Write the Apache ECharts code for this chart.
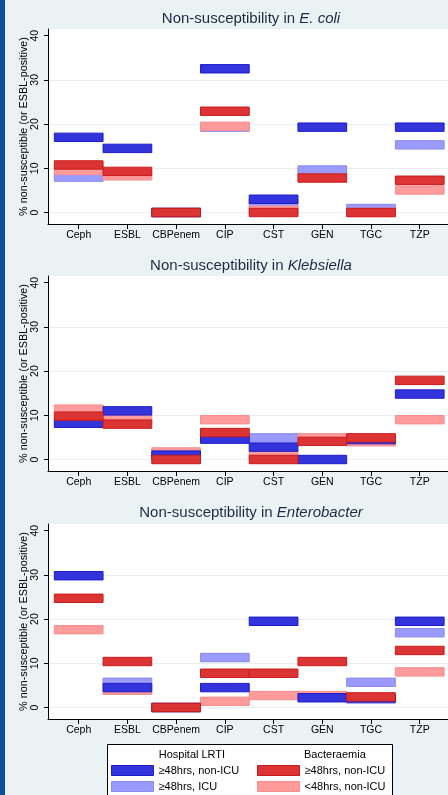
<!DOCTYPE html>
<html>
<head>
<meta charset="utf-8">
<script src="https://cdn.jsdelivr.net/npm/echarts@6/dist/echarts.min.js"></script>
<style>
    html, body { margin: 0; padding: 0; background: #eaf2f3; }
    #chart { width: 448px; height: 795px; }
</style>
</head>
<body>
<div id="chart"></div>
<script>
const categories = ['Ceph', 'ESBL', 'CBPenem', 'CIP', 'CST', 'GEN', 'TGC', 'TZP'];
const yTicks = [0, 10, 20, 30, 40];

// E. coli
const ecoliLrtiNonIcu = [17.0, 14.5, 0, 32.5, 3.0, 19.3, null, 19.3];
const ecoliLrtiIcu = [8.0, null, 0, 19.3, 2.0, 9.6, 0.9, 15.3];
const ecoliBactNonIcu = [10.75, 9.3, 0, 22.9, 0, 7.8, 0, 7.3];
const ecoliBactLt48 = [9.5, 8.3, 0, 19.5, 0.5, null, 0, 5.1];
// Klebsiella
const klebLrtiNonIcu = [8.2, 11.0, 1.0, 4.6, 2.8, 0, 4.5, 14.8];
const klebLrtiIcu = [null, null, null, null, 4.9, null, null, null];
const klebBactNonIcu = [9.8, 8.0, 0, 6.1, 0, 4.1, 4.9, 17.9];
const klebBactLt48 = [11.4, 9.1, 1.7, 9.0, 1.0, 4.9, 4.0, 9.0];
// Enterobacter
const entLrtiNonIcu = [29.8, 4.5, 0, 4.5, 19.5, 2.2, 2.0, 19.5];
const entLrtiIcu = [null, 5.7, 0, 11.3, null, null, 5.7, 16.9];
const entBactNonIcu = [24.7, 10.4, 0, 7.75, 7.75, 10.4, 2.4, 12.9];
const entBactLt48 = [17.6, 3.9, 0, 1.4, 2.7, 2.7, null, 8.05];

const FONT = '"Liberation Sans", Arial, sans-serif';
const BAR_H = 1.9; // bar thickness in % units

// drawing order: light blue, pink, dark blue, red
const seriesDefs = [
    { name: 'LRTI|≥48hrs, ICU', color: '#9b9bff', border: '#8a8af0' },
    { name: 'BACT|<48hrs, non-ICU', color: '#ff9b9b', border: '#f78e8e' },
    { name: 'LRTI|≥48hrs, non-ICU', color: '#3434dc', border: '#1c1cc8' },
    { name: 'BACT|≥48hrs, non-ICU', color: '#dc3434', border: '#c81c1c' }
];

const panels = [
    { top: 29, titleY: 19, species: 'E. coli', data: [ecoliLrtiIcu, ecoliBactLt48, ecoliLrtiNonIcu, ecoliBactNonIcu] },
    { top: 276, titleY: 266, species: 'Klebsiella', data: [klebLrtiIcu, klebBactLt48, klebLrtiNonIcu, klebBactNonIcu] },
    { top: 524, titleY: 513, species: 'Enterobacter', data: [entLrtiIcu, entBactLt48, entLrtiNonIcu, entBactNonIcu] }
];

function renderBar(params, api) {
    const c = api.coord([api.value(0), api.value(1)]);
    const s = api.size([1, BAR_H]);
    return {
        type: 'rect',
        shape: { x: c[0] - s[0] / 2, y: c[1] - s[1] / 2, width: s[0], height: s[1] },
        style: api.style()
    };
}

const catTicks = categories.map((c, i) => i + 1);

const grid = [], xAxis = [], yAxis = [], series = [], graphic = [];

panels.forEach((p, i) => {
    grid.push({ left: 48, right: 0, top: p.top, height: 195, show: true, backgroundColor: '#fff', borderWidth: 0 });
    xAxis.push({
        type: 'value', gridIndex: i, min: 0.37, max: 8.58,
        axisLine: { onZero: false, lineStyle: { color: '#000', width: 1 } },
        axisTick: { customValues: catTicks, length: 5, lineStyle: { color: '#000' } },
        axisLabel: { customValues: catTicks, formatter: v => categories[v - 1], fontSize: 10.5, color: '#000', margin: 6, fontFamily: FONT },
        splitLine: { show: false }
    });
    yAxis.push({
        type: 'value', gridIndex: i, min: -2.6, max: 41.5,
        name: '% non-susceptible (or ESBL-positive)', nameLocation: 'middle', nameGap: 18, nameRotate: 90,
        nameMoveOverlap: false,
        nameTextStyle: { fontSize: 10.8, color: '#000', fontFamily: FONT },
        axisLine: { show: true, onZero: false, lineStyle: { color: '#000', width: 1 } },
        axisTick: { show: true, customValues: yTicks, length: 4, lineStyle: { color: '#000' } },
        axisLabel: { customValues: yTicks, rotate: 90, fontSize: 10.5, color: '#000', margin: 7, fontFamily: FONT },
        // no grid line at the top tick
        splitLine: { show: true, lineStyle: { color: ['#e6eef0', '#e6eef0', '#e6eef0', '#e6eef0', '#ffffff'], width: 1 } }
    });
    seriesDefs.forEach((d, k) => {
        series.push({
            type: 'custom', name: d.name, xAxisIndex: i, yAxisIndex: i,
            renderItem: renderBar,
            itemStyle: { color: d.color, borderColor: d.border, borderWidth: 1 },
            data: p.data[k].map((v, j) => v == null ? null : [j + 1, v]).filter(Boolean),
            z: 2 + k
        });
    });
    graphic.push({
        type: 'text', x: 251, y: p.titleY,
        style: {
            text: '{a|Non-susceptibility in }{b|' + p.species + '}',
            align: 'center', verticalAlign: 'middle',
            rich: {
                a: { fontSize: 15, fill: '#1c2a48', fontFamily: FONT },
                b: { fontSize: 15, fill: '#1c2a48', fontFamily: FONT, fontStyle: 'italic' }
            }
        }
    });
});

// left blue strip, legend frame and headings
graphic.push(
    { type: 'rect', shape: { x: 0, y: 0, width: 5, height: 795 }, style: { fill: '#0b4f9b' } },
    { type: 'rect', z: -1, shape: { x: 107.5, y: 744.5, width: 285, height: 60 }, style: { fill: '#fff', stroke: '#000', lineWidth: 1 } },
    { type: 'text', x: 158.7, y: 755, style: { text: 'Hospital LRTI', fontSize: 11, fill: '#000', fontFamily: FONT, verticalAlign: 'middle' } },
    { type: 'text', x: 304, y: 755, style: { text: 'Bacteraemia', fontSize: 11, fill: '#000', fontFamily: FONT, verticalAlign: 'middle' } }
);

function legendItem(name) {
    const d = seriesDefs.find(s => s.name === name);
    return { name: name, icon: 'rect', itemStyle: { color: d.color, borderColor: d.border, borderWidth: 1 } };
}
const legendBase = {
    orient: 'vertical', top: 765, padding: 0, itemWidth: 42, itemHeight: 10, itemGap: 5,
    selectedMode: false,
    formatter: name => name.split('|')[1],
    textStyle: { fontSize: 11, color: '#000', fontFamily: FONT, lineHeight: 10 }
};

const chart = echarts.init(document.getElementById('chart'));
chart.setOption({
    animation: false,
    backgroundColor: '#eaf2f3',
    grid: grid,
    xAxis: xAxis,
    yAxis: yAxis,
    legend: [
        Object.assign({ left: 111, data: ['LRTI|≥48hrs, non-ICU', 'LRTI|≥48hrs, ICU'].map(legendItem) }, legendBase),
        Object.assign({ left: 257, data: ['BACT|≥48hrs, non-ICU', 'BACT|<48hrs, non-ICU'].map(legendItem) }, legendBase)
    ],
    graphic: graphic,
    series: series
});
</script>
</body>
</html>
